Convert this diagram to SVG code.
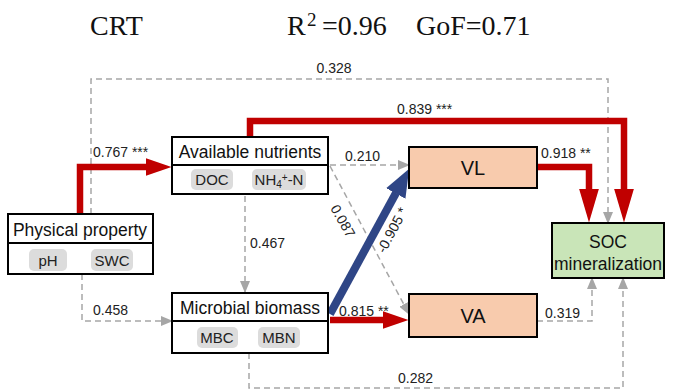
<svg xmlns="http://www.w3.org/2000/svg" width="680" height="391" viewBox="0 0 680 391">
<style>
.title{font-family:"Liberation Serif","Times New Roman",serif;font-size:28px;fill:#111}
.box{fill:#fff;stroke:#000;stroke-width:2}
.div{stroke:#000;stroke-width:2}
.hd{font-family:"Liberation Sans",Arial,sans-serif;font-size:17.5px;fill:#111;text-anchor:middle}
.chip{fill:#dcdcdc;stroke:none}
.ct{font-family:"Liberation Sans",Arial,sans-serif;font-size:15px;fill:#222;text-anchor:middle}
.lb{font-family:"Liberation Sans",Arial,sans-serif;font-size:14px;fill:#222}
.gd{fill:none;stroke:#a6a6a6;stroke-width:1.5;stroke-dasharray:6 4}
.rd{fill:none;stroke:#c00000;stroke-width:6.5}
.bl{fill:none;stroke:#2f4686;stroke-width:8}
.peach{fill:#f8cbad;stroke:#000;stroke-width:2}
.green{fill:#c9e5b8;stroke:#000;stroke-width:2}
.big{font-family:"Liberation Sans",Arial,sans-serif;font-size:20px;fill:#111;text-anchor:middle}
</style>
<defs>
<marker id="arG" markerUnits="userSpaceOnUse" viewBox="0 0 12 10" markerWidth="12" markerHeight="10" refX="11" refY="5" orient="auto"><path d="M0,0 L12,5 L0,10 z" fill="#a6a6a6"/></marker>
<marker id="arR" markerUnits="userSpaceOnUse" viewBox="0 0 26 18" markerWidth="26" markerHeight="18" refX="0.5" refY="9" orient="auto"><path d="M0,0 L26,9 L0,18 z" fill="#c00000"/></marker>
<marker id="arRb" markerUnits="userSpaceOnUse" viewBox="0 0 34 20" markerWidth="34" markerHeight="20" refX="0.5" refY="10" orient="auto"><path d="M0,0 L34,10 L0,20 z" fill="#c00000"/></marker>
<marker id="arB" markerUnits="userSpaceOnUse" viewBox="0 0 28 22" markerWidth="28" markerHeight="22" refX="0.5" refY="11" orient="auto"><path d="M0,0 L28,11 L0,22 z" fill="#2f4686"/></marker>
</defs>

<g id="title">
<text class="title" x="90" y="35">CRT</text>
<text class="title" x="287" y="35">R<tspan x="307" font-size="19" dy="-9">2</tspan><tspan x="322" dy="9">=0.96</tspan><tspan x="416">GoF=0.71</tspan></text>
</g>

<g id="connectors">
<path class="gd" d="M91,214 V79 H608 V223" marker-end="url(#arG)"/>
<path class="rd" d="M250,137 V121 H624 V189" marker-end="url(#arRb)"/>
<path class="rd" d="M80,214 V167 H146" marker-end="url(#arR)"/>
<path class="gd" d="M82,274 V321 H172" marker-end="url(#arG)"/>
<path class="gd" d="M245,196 V292" marker-end="url(#arG)"/>
<path class="gd" d="M330,165 H409" marker-end="url(#arG)"/>
<path class="gd" d="M330,166 L409,314" marker-end="url(#arG)"/>
<path class="bl" d="M330,314 L396,193" marker-end="url(#arB)"/>
<path class="rd" d="M330,320 H383" marker-end="url(#arR)"/>
<path class="rd" d="M537,167 H589 V189" marker-end="url(#arRb)"/>
<path class="gd" d="M537,321 H592 V278" marker-end="url(#arG)"/>
<path class="gd" d="M249,353 V388 H623 V278" marker-end="url(#arG)"/>

<text class="lb" x="334" y="73" text-anchor="middle">0.328</text>
<text class="lb" x="397" y="114">0.839 ***</text>
<text class="lb" x="93" y="157">0.767 ***</text>
<text class="lb" x="345" y="161">0.210</text>
<text class="lb" transform="translate(343,221) rotate(60)" text-anchor="middle" dy="5">0.087</text>
<text class="lb" transform="translate(392,230) rotate(-62)" text-anchor="middle" dy="5">-0.905 *</text>
<text class="lb" x="250" y="248">0.467</text>
<text class="lb" x="93" y="315">0.458</text>
<text class="lb" x="339" y="316">0.815 **</text>
<text class="lb" x="541" y="158">0.918 **</text>
<text class="lb" x="545" y="318">0.319</text>
<text class="lb" x="398" y="383">0.282</text>
</g>

<g id="physical-property">
<rect class="box" x="8" y="214" width="145" height="60"/>
<line class="div" x1="8" y1="243" x2="153" y2="243"/>
<text class="hd" x="80" y="236">Physical property</text>
<rect class="chip" x="29" y="249" width="38" height="22" rx="5"/>
<text class="ct" x="48" y="266">pH</text>
<rect class="chip" x="91" y="249" width="42" height="22" rx="5"/>
<text class="ct" x="112" y="266">SWC</text>
</g>

<g id="available-nutrients">
<rect class="box" x="172" y="137" width="156" height="57"/>
<line class="div" x1="172" y1="165" x2="328" y2="165"/>
<text class="hd" x="250" y="158">Available nutrients</text>
<rect class="chip" x="191" y="169" width="42" height="21" rx="5"/>
<text class="ct" x="212" y="185">DOC</text>
<rect class="chip" x="252" y="169" width="54" height="21" rx="5"/>
<text class="ct" x="279" y="185">NH<tspan font-size="10" dy="3">4</tspan><tspan font-size="10" dy="-7">+</tspan><tspan dy="4">-N</tspan></text>
</g>

<g id="microbial-biomass">
<rect class="box" x="172" y="293" width="156" height="60"/>
<line class="div" x1="172" y1="321" x2="328" y2="321"/>
<text class="hd" x="250" y="314">Microbial biomass</text>
<rect class="chip" x="197" y="327" width="41" height="21" rx="5"/>
<text class="ct" x="217" y="343">MBC</text>
<rect class="chip" x="258" y="327" width="42" height="21" rx="5"/>
<text class="ct" x="279" y="343">MBN</text>
</g>

<g id="VL">
<rect class="peach" x="409" y="147" width="128" height="41"/>
<text class="big" x="473" y="175">VL</text>
</g>

<g id="VA">
<rect class="peach" x="409" y="294" width="128" height="43"/>
<text class="big" x="473" y="323">VA</text>
</g>

<g id="SOC-mineralization">
<rect class="green" x="552" y="223" width="112" height="55"/>
<text class="hd" x="608" y="248">SOC</text>
<text class="hd" x="608" y="270">mineralization</text>
</g>
</svg>
